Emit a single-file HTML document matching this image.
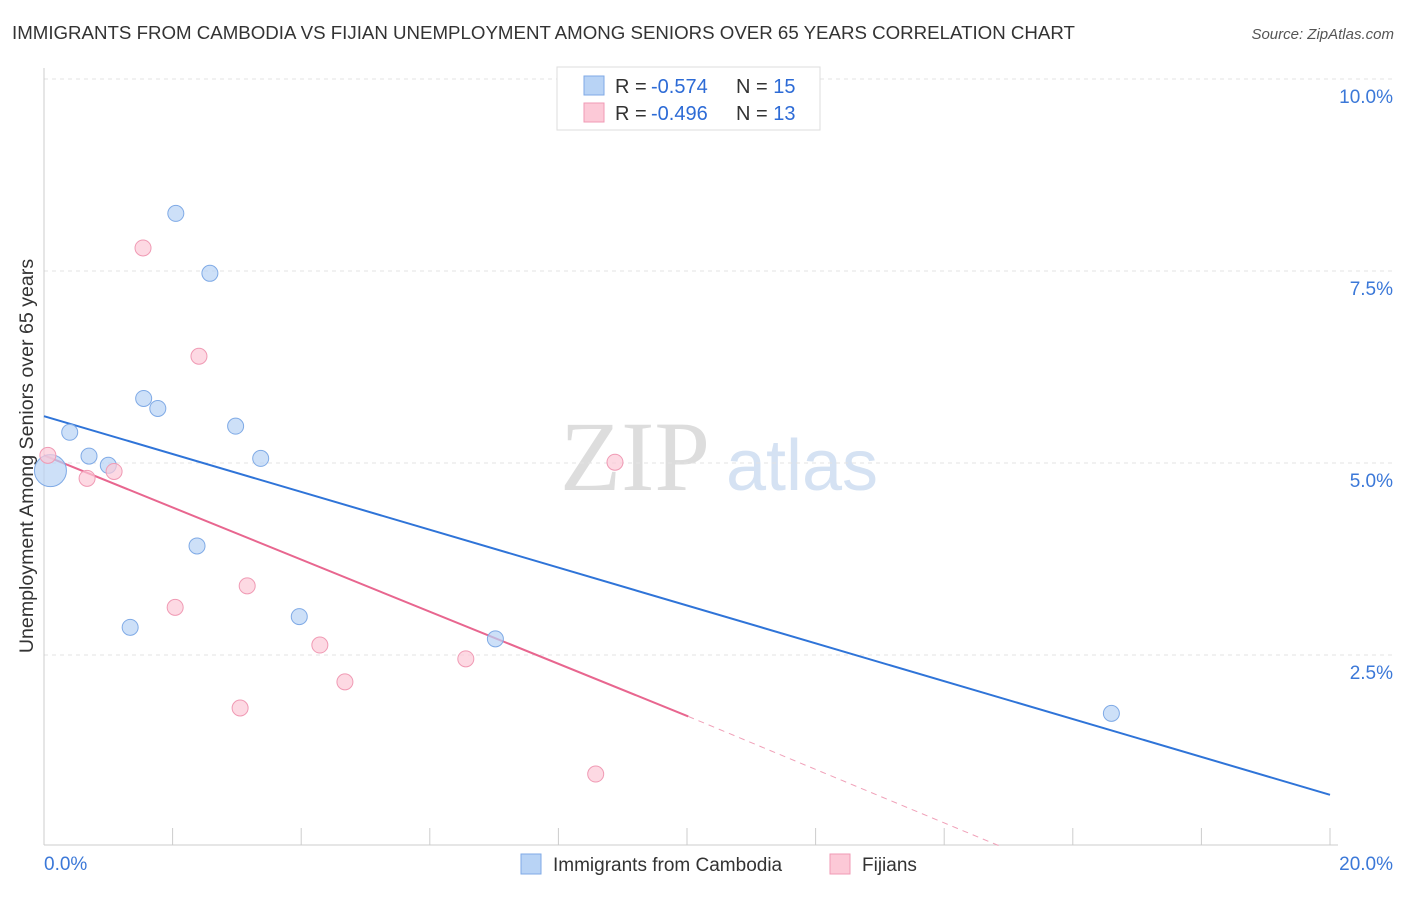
<!DOCTYPE html>
<html><head><meta charset="utf-8"><style>
body{margin:0;background:#fff;font-family:"Liberation Sans",sans-serif;}
</style></head><body>
<svg id="c" width="1406" height="892" xmlns="http://www.w3.org/2000/svg" font-family="Liberation Sans, sans-serif">
<text x="12" y="39" font-size="18.7" fill="#333">IMMIGRANTS FROM CAMBODIA VS FIJIAN UNEMPLOYMENT AMONG SENIORS OVER 65 YEARS CORRELATION CHART</text>
<text x="1394" y="39" font-size="15" fill="#555" font-style="italic" text-anchor="end">Source: ZipAtlas.com</text>
<text x="635" y="490" font-size="100" fill="#ddd" style="font-family:'Liberation Serif',serif" text-anchor="middle">ZIP</text>
<text x="802" y="490" font-size="72" fill="#d5e2f3" text-anchor="middle">atlas</text>
<text transform="translate(33,456) rotate(-90)" font-size="19.6" fill="#333" text-anchor="middle">Unemployment Among Seniors over 65 years</text>
<g id="grid"></g><g id="axes"></g><g id="lines"></g><g id="pts"></g>
<g>
<rect x="557" y="67" width="263" height="63" fill="#fff" stroke="#ddd"/>
<rect x="584" y="76" width="20" height="19" fill="#b8d3f5" stroke="#7faae6"/>
<rect x="584" y="103" width="20" height="19" fill="#fcc9d7" stroke="#f09ab4"/>
<text x="615" y="93" font-size="20" fill="#333">R = <tspan x="651" fill="#2d6bd6">-0.574</tspan><tspan x="736">N = </tspan><tspan fill="#2d6bd6">15</tspan></text>
<text x="615" y="120" font-size="20" fill="#333">R = <tspan x="651" fill="#2d6bd6">-0.496</tspan><tspan x="736">N = </tspan><tspan fill="#2d6bd6">13</tspan></text>
</g>
<g>
<rect x="521" y="854" width="20" height="20" fill="#b8d3f5" stroke="#7faae6"/>
<text x="553" y="871" font-size="19" fill="#333">Immigrants from Cambodia</text>
<rect x="830" y="854" width="20" height="20" fill="#fcc9d7" stroke="#f09ab4"/>
<text x="862" y="871" font-size="19" fill="#333">Fijians</text>
</g>
</svg>
<script>
const blueX=[0.4,0.7,1.0,1.55,1.77,2.05,2.58,2.98,3.37,2.38,1.34,3.97,7.02,16.6,0.1];
const blueY=[5.4,5.09,4.97,5.84,5.71,8.25,7.47,5.48,5.06,3.92,2.86,3.0,2.71,1.74,4.9];
const pinkX=[0.06,0.67,1.09,1.54,2.41,2.04,3.16,4.29,4.68,3.05,6.56,8.88,8.58];
const pinkY=[5.1,4.8,4.89,7.8,6.39,3.12,3.4,2.63,2.15,1.81,2.45,5.01,0.95];
const blueLine=[[0,5.61],[20,0.68]];
const pinkSolid=[[0,5.1],[10.02,1.7]];
const pinkDash=[[10.02,1.7],[14.9,0]];
const yTicks=[2.5,5,7.5,10];
const yTickLabels=["2.5%","5.0%","7.5%","10.0%"];
const xTicks=[0,2,4,6,8,10,12,14,16,18,20];
const NS="http://www.w3.org/2000/svg";
const X=v=>44+v*64.3, Y=v=>847-v*76.8;
function mk(p,t,a){const e=document.createElementNS(NS,t);for(const k in a)e.setAttribute(k,a[k]);document.getElementById(p).appendChild(e);return e;}
yTicks.forEach((t,i)=>{
 const g=mk('grid','line',{x1:44,x2:1395,y1:Y(t),y2:Y(t),stroke:'#e3e3e3','stroke-dasharray':'4,4'});
 
 
 const l=mk('grid','text',{x:1393,y:Y(t)+24,'font-size':19,fill:'#3b78d8','text-anchor':'end'});
 l.textContent=yTickLabels[i];
 
 
});
const ya=mk('axes','line',{x1:44,x2:44,y1:68,y2:845,stroke:'#ccc'});


const xa=mk('axes','line',{x1:44,x2:1338,y1:845,y2:845,stroke:'#ccc'});


xTicks.forEach(t=>{const e=mk('axes','line',{x1:X(t),x2:X(t),y1:828,y2:845,stroke:'#ccc'});
 
 });
const x0=mk('axes','text',{x:44,y:870,'font-size':19,fill:'#3b78d8'});x0.textContent='0.0%';


const x1=mk('axes','text',{x:1393,y:870,'font-size':19,fill:'#3b78d8','text-anchor':'end'});x1.textContent='20.0%';


function ln(seg,col,name,dash){const e=mk('lines','line',{x1:X(seg[0][0]),y1:Y(seg[0][1]),x2:X(seg[1][0]),y2:Y(seg[1][1]),stroke:col,'stroke-width':dash?1:2,'stroke-dasharray':dash?'6,5':'none'});
 
 }
ln(blueLine,'#2f74d8','trend-line-cambodia');
ln(pinkSolid,'#e8668f','trend-line-fijians');
ln(pinkDash,'#f0a0b8','trend-line-fijians-extension',true);
blueX.forEach((v,i)=>{const e=mk('pts','circle',{cx:X(v),cy:Y(blueY[i]),r:i==14?16:8,fill:'#b8d3f5','fill-opacity':0.7,stroke:'#7faae6'});
 
 });
pinkX.forEach((v,i)=>{const e=mk('pts','circle',{cx:X(v),cy:Y(pinkY[i]),r:8,fill:'#fcc9d7','fill-opacity':0.7,stroke:'#f09ab4'});
 
 });
</script>
</body></html>
